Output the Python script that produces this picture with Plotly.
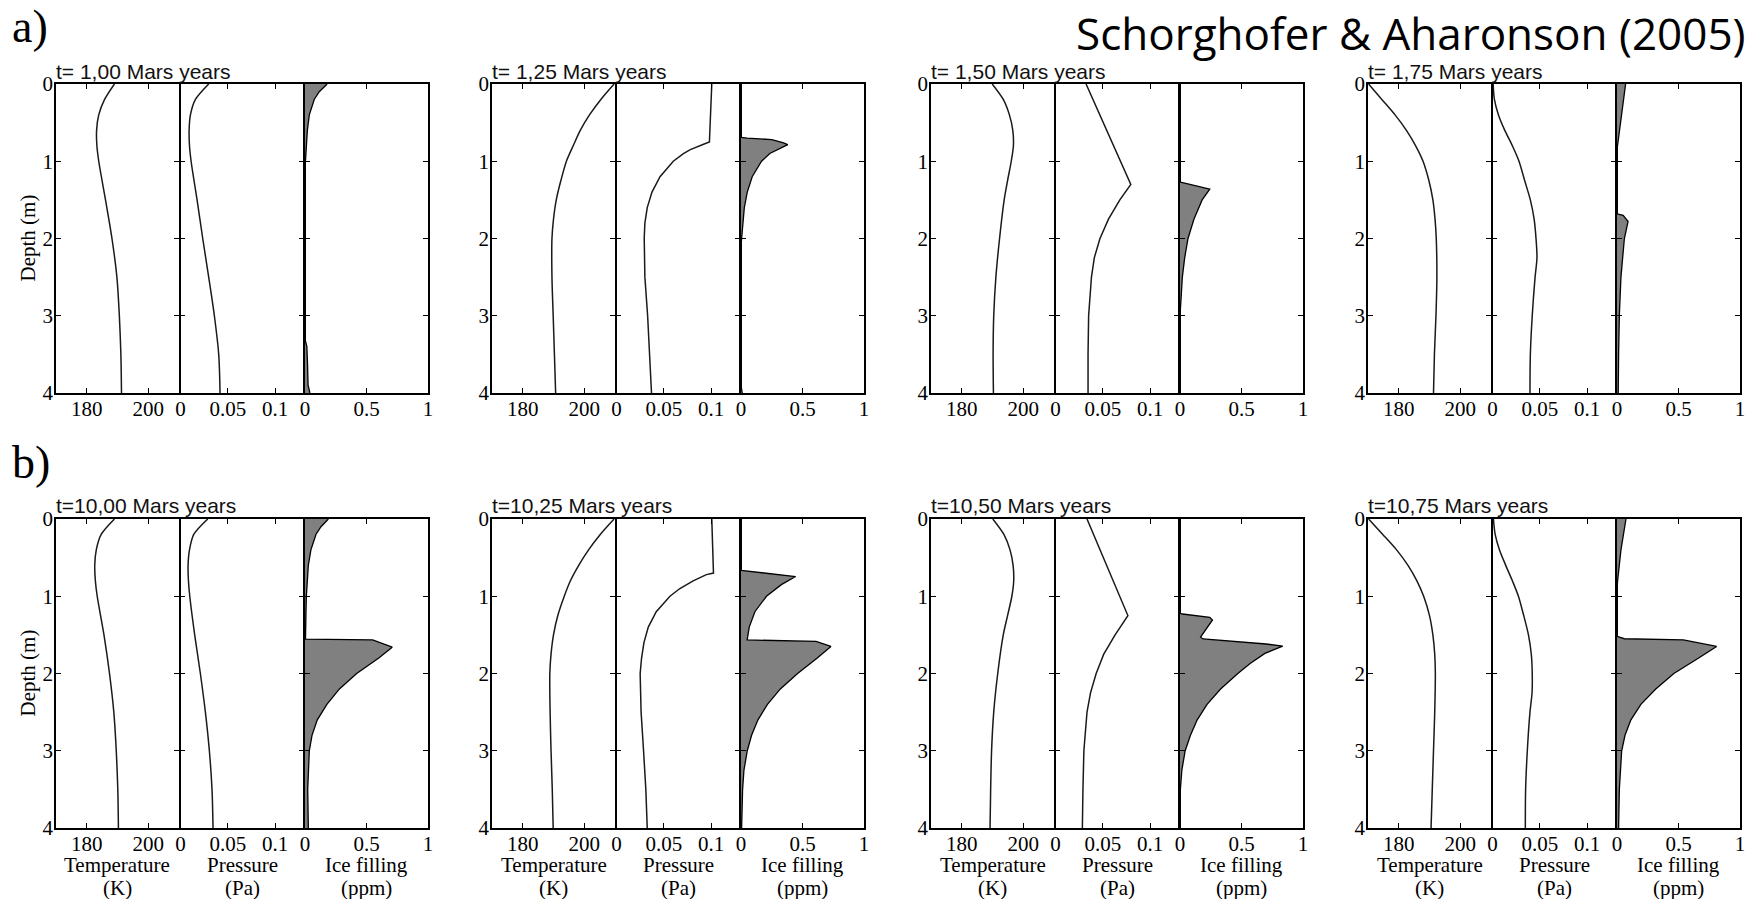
import plotly.graph_objects as go

W, H = 1751, 899

# ---------------- DATA ----------------
TITLES_A = ["t= 1,00 Mars years", "t= 1,25 Mars years", "t= 1,50 Mars years", "t= 1,75 Mars years"]
TITLES_B = ["t=10,00 Mars years", "t=10,25 Mars years", "t=10,50 Mars years", "t=10,75 Mars years"]

T_TICKS = [180, 200]
P_TICKS = [0, 0.05, 0.1]
P_TICKTEXT = ["0", "0.05", "0.1"]
I_TICKS = [0, 0.5, 1]
DEPTH_TICKS = [0, 1, 2, 3, 4]
XLABELS = [("Temperature", "(K)"), ("Pressure", "(Pa)"), ("Ice filling", "(ppm)")]

# Row a, t=1.00
A1_T_depth = [0, 0.2, 0.4, 0.6, 0.8, 1.0, 1.5, 2.0, 2.5, 3.0, 3.5, 4.0]
A1_T = [189.0, 185.8, 183.9, 183.2, 183.3, 183.9, 186.1, 188.2, 189.8, 190.6, 191.1, 191.3]
A1_P_depth = [0, 0.2, 0.4, 0.6, 0.8, 1.0, 1.5, 2.0, 2.5, 3.0, 3.5, 4.0]
A1_P = [0.0298, 0.0158, 0.0105, 0.0091, 0.0095, 0.0112, 0.0175, 0.0235, 0.0298, 0.0358, 0.0404, 0.0418]
A1_I_depth = [0, 0.1, 0.2, 0.4, 0.6, 0.8, 1.0, 1.1, 3.3, 3.4, 3.6, 3.9, 4.0]
A1_I = [0.18, 0.116, 0.075, 0.035, 0.019, 0.01, 0.003, 0, 0, 0.015, 0.02, 0.025, 0.04]

# Row a, t=1.25
A2_T_depth = [0, 0.2, 0.4, 0.6, 0.8, 1.0, 1.25, 1.5, 1.75, 2.0, 2.5, 3.0, 3.5, 4.0]
A2_T = [209.7, 205.4, 201.7, 198.7, 196.4, 194.2, 192.4, 190.9, 190.0, 189.5, 189.5, 189.9, 190.3, 190.7]
A2_P_depth = [0, 0.75, 0.78, 0.85, 0.9, 1.0, 1.2, 1.4, 1.6, 1.8, 2.0, 2.5, 3.0, 3.5, 4.0]
A2_P = [0.1007, 0.0982, 0.092, 0.078, 0.0707, 0.060, 0.046, 0.0375, 0.0325, 0.030, 0.0293, 0.030, 0.0329, 0.035, 0.037]
A2_I_depth = [0, 0.69, 0.70, 0.72, 0.76, 0.785, 0.9, 1.0, 1.2, 1.4, 1.6, 1.8, 2.0, 2.1, 3.9, 4.0]
A2_I = [0, 0, 0.05, 0.25, 0.34, 0.38, 0.234, 0.167, 0.091, 0.051, 0.027, 0.013, 0.005, 0, 0, 0.01]

# Row a, t=1.50
A3_T_depth = [0, 0.2, 0.4, 0.6, 0.8, 1.0, 1.25, 1.5, 2.0, 2.5, 3.0, 3.5, 4.0]
A3_T = [189.9, 193.5, 195.5, 196.6, 196.8, 196.1, 194.9, 193.8, 192.3, 191.1, 190.4, 190.2, 190.3]
A3_P_depth = [0, 1.3, 1.5, 1.75, 2.0, 2.25, 2.5, 3.0, 3.5, 4.0]
A3_P = [0.0323, 0.0796, 0.068, 0.056, 0.047, 0.041, 0.038, 0.035, 0.0344, 0.0344]
A3_I_depth = [0, 1.27, 1.28, 1.30, 1.36, 1.5, 1.75, 2.0, 2.25, 2.5, 2.75, 3.0, 4.0]
A3_I = [0, 0, 0.03, 0.09, 0.242, 0.18, 0.113, 0.065, 0.038, 0.019, 0.008, 0, 0]

# Row a, t=1.75
A4_T_depth = [0, 0.2, 0.4, 0.6, 0.8, 1.0, 1.25, 1.5, 1.75, 2.0, 2.5, 3.0, 3.5, 4.0]
A4_T = [170.2, 174.5, 178.8, 182.5, 185.5, 187.9, 189.8, 191.1, 191.8, 192.2, 192.4, 192.1, 191.6, 191.3]
A4_P_depth = [0, 0.2, 0.4, 0.6, 0.8, 1.0, 1.25, 1.5, 1.75, 2.0, 2.25, 2.5, 3.0, 3.5, 4.0]
A4_P = [0.0007, 0.002, 0.0063, 0.013, 0.021, 0.028, 0.034, 0.040, 0.044, 0.046, 0.047, 0.045, 0.042, 0.040, 0.0396]
A4_I_depth = [0, 0.4, 0.8, 0.85, 1.68, 1.7, 1.78, 2.0, 2.5, 3.0, 3.5, 4.0]
A4_I = [0.07, 0.035, 0.003, 0, 0, 0.05, 0.09, 0.06, 0.032, 0.019, 0.013, 0.01]

# Row b, t=10.00
B1_T_depth = [0, 0.2, 0.4, 0.6, 0.8, 1.0, 1.5, 2.0, 2.5, 3.0, 3.5, 4.0]
B1_T = [189.0, 184.7, 183.1, 182.6, 182.8, 183.4, 185.6, 187.4, 188.8, 189.6, 190.1, 190.3]
B1_P_depth = [0, 0.2, 0.4, 0.6, 0.8, 1.0, 1.5, 2.0, 2.5, 3.0, 3.5, 4.0]
B1_P = [0.0288, 0.014, 0.0095, 0.008, 0.0084, 0.0098, 0.015, 0.021, 0.0263, 0.0305, 0.0333, 0.0344]
B1_I_depth = [0, 0.1, 0.2, 0.4, 0.6, 0.8, 1.0, 1.2, 1.4, 1.555, 1.565, 1.66, 1.8, 2.0, 2.2, 2.4, 2.6, 2.8, 3.0, 3.5, 4.0]
B1_I = [0.19, 0.13, 0.089, 0.048, 0.027, 0.016, 0.011, 0.008, 0.005, 0.004, 0.55, 0.709, 0.60, 0.42, 0.28, 0.178, 0.10, 0.057, 0.035, 0.022, 0.027]

# Row b, t=10.25
B2_T_depth = [0, 0.2, 0.4, 0.6, 0.8, 1.0, 1.25, 1.5, 1.75, 2.0, 2.5, 3.0, 3.5, 4.0]
B2_T = [209.7, 205.2, 201.4, 198.2, 195.5, 193.5, 191.4, 190.0, 189.2, 188.8, 188.9, 189.2, 189.6, 189.9]
B2_P_depth = [0, 0.7, 0.72, 0.8, 0.9, 1.0, 1.2, 1.4, 1.6, 1.8, 2.0, 2.5, 3.0, 3.5, 4.0]
B2_P = [0.1007, 0.1025, 0.095, 0.081, 0.067, 0.0565, 0.042, 0.0336, 0.029, 0.0265, 0.025, 0.026, 0.0286, 0.031, 0.0325]
B2_I_depth = [0, 0.665, 0.745, 0.85, 1.0, 1.2, 1.4, 1.55, 1.565, 1.585, 1.65, 1.8, 2.0, 2.2, 2.4, 2.6, 2.8, 3.0, 3.25, 3.5, 4.0]
B2_I = [0, 0, 0.444, 0.328, 0.207, 0.113, 0.067, 0.046, 0.05, 0.61, 0.731, 0.62, 0.46, 0.32, 0.215, 0.138, 0.086, 0.051, 0.024, 0.013, 0.005]

# Row b, t=10.50
B3_T_depth = [0, 0.2, 0.4, 0.6, 0.8, 1.0, 1.25, 1.5, 2.0, 2.5, 3.0, 3.5, 4.0]
B3_T = [190.1, 193.7, 195.7, 196.7, 196.9, 196.3, 194.9, 193.5, 191.7, 190.4, 189.7, 189.4, 189.2]
B3_P_depth = [0, 1.25, 1.5, 1.75, 2.0, 2.25, 2.5, 3.0, 3.5, 4.0]
B3_P = [0.0333, 0.0765, 0.063, 0.051, 0.043, 0.037, 0.0333, 0.030, 0.029, 0.0284]
B3_I_depth = [0, 1.22, 1.23, 1.273, 1.307, 1.53, 1.553, 1.618, 1.645, 1.74, 1.87, 2.0, 2.2, 2.4, 2.6, 2.8, 3.0, 3.25, 3.5, 4.0]
B3_I = [0, 0, 0.02, 0.242, 0.264, 0.167, 0.188, 0.70, 0.835, 0.69, 0.57, 0.47, 0.33, 0.22, 0.14, 0.085, 0.042, 0.015, 0.003, 0]

# Row b, t=10.75
B4_T_depth = [0, 0.2, 0.4, 0.6, 0.8, 1.0, 1.25, 1.5, 1.75, 2.0, 2.5, 3.0, 3.5, 4.0]
B4_T = [170.2, 174.8, 179.3, 183.0, 185.9, 188.1, 190.0, 191.1, 191.7, 191.9, 191.7, 191.3, 190.9, 190.5]
B4_P_depth = [0, 0.2, 0.4, 0.6, 0.8, 1.0, 1.25, 1.5, 1.75, 2.0, 2.25, 2.5, 3.0, 3.5, 4.0]
B4_P = [0.001, 0.0028, 0.0074, 0.014, 0.021, 0.0274, 0.033, 0.038, 0.041, 0.042, 0.0418, 0.0396, 0.0368, 0.035, 0.0347]
B4_I_depth = [0, 0.4, 0.8, 0.9, 1.52, 1.55, 1.565, 1.65, 1.8, 2.0, 2.2, 2.4, 2.6, 2.8, 3.0, 3.5, 4.0]
B4_I = [0.073, 0.032, 0.005, 0, 0, 0.06, 0.54, 0.81, 0.664, 0.462, 0.315, 0.194, 0.113, 0.065, 0.038, 0.019, 0.013]

ROW_A = [
    (A1_T_depth, A1_T, A1_P_depth, A1_P, A1_I_depth, A1_I),
    (A2_T_depth, A2_T, A2_P_depth, A2_P, A2_I_depth, A2_I),
    (A3_T_depth, A3_T, A3_P_depth, A3_P, A3_I_depth, A3_I),
    (A4_T_depth, A4_T, A4_P_depth, A4_P, A4_I_depth, A4_I),
]
ROW_B = [
    (B1_T_depth, B1_T, B1_P_depth, B1_P, B1_I_depth, B1_I),
    (B2_T_depth, B2_T, B2_P_depth, B2_P, B2_I_depth, B2_I),
    (B3_T_depth, B3_T, B3_P_depth, B3_P, B3_I_depth, B3_I),
    (B4_T_depth, B4_T, B4_P_depth, B4_P, B4_I_depth, B4_I),
]
KINKED_PRESSURE = {(0, 1), (0, 2), (1, 1), (1, 2)}

# ---------------- LAYOUT GEOMETRY (pixels) ----------------
GROUP_X = [56, 492, 931, 1368]
LW = 1.5
PANEL_W = 123.0
ROW_Y = [(84, 393), (519, 828)]
TITLE_Y = [71, 505]

SERIF = "Liberation Serif, Times New Roman, serif"
SANS = "Liberation Sans, Arial, sans-serif"


def px_x(p):
    return p / W


def px_y(p):
    return 1 - p / H


fig = go.Figure()
layout = {}
annotations = []
k = 0
for r, row in enumerate([ROW_A, ROW_B]):
    top, bot = ROW_Y[r]
    for g, (td, tv, pd, pv, idp, iv) in enumerate(row):
        x0 = GROUP_X[g]
        for s in range(3):
            k += 1
            xa = "x" if k == 1 else f"x{k}"
            ya = "y" if k == 1 else f"y{k}"
            xkey = "xaxis" if k == 1 else f"xaxis{k}"
            ykey = "yaxis" if k == 1 else f"yaxis{k}"
            left = x0 + s * (PANEL_W + LW)
            right = left + PANEL_W
            common = dict(showline=True, linecolor="black", linewidth=LW, mirror="ticks",
                          ticks="inside", ticklen=5, tickwidth=1.3, tickcolor="black",
                          showgrid=False, zeroline=False, automargin=False,
                          tickfont=dict(family=SERIF, size=21, color="black"))
            if s == 0:
                xr, tvals, ttext = [170, 210], T_TICKS, [str(t) for t in T_TICKS]
                fig.add_trace(go.Scatter(x=tv, y=td, mode="lines", xaxis=xa, yaxis=ya,
                                         line=dict(color="#1a1a1a", width=1.5, shape="spline", smoothing=0.8),
                                         showlegend=False, hoverinfo="skip"))
            elif s == 1:
                xr, tvals, ttext = [0, 0.13], P_TICKS, P_TICKTEXT
                shape = "linear" if (r, g) in KINKED_PRESSURE else "spline"
                fig.add_trace(go.Scatter(x=pv, y=pd, mode="lines", xaxis=xa, yaxis=ya,
                                         line=dict(color="#1a1a1a", width=1.5, shape=shape, smoothing=0.8),
                                         showlegend=False, hoverinfo="skip"))
            else:
                xr, tvals, ttext = [0, 1], I_TICKS, ["0", "0.5", "1"]
                fig.add_trace(go.Scatter(x=iv, y=idp, mode="lines", xaxis=xa, yaxis=ya,
                                         fill="tozerox", fillcolor="#808080",
                                         line=dict(color="black", width=1.3),
                                         showlegend=False, hoverinfo="skip"))
            layout[xkey] = dict(common, domain=[px_x(left), px_x(right)], range=xr,
                                tickvals=tvals, ticktext=ttext, anchor=ya,
                                ticklabelstandoff=-4)
            layout[ykey] = dict(common, domain=[px_y(bot), px_y(top)], range=[4, 0],
                                tickvals=DEPTH_TICKS, ticktext=[str(d) for d in DEPTH_TICKS],
                                showticklabels=(s == 0), anchor=xa, ticklabelstandoff=-3)
            if r == 1:
                cx = px_x((left + right) / 2)
                annotations.append(dict(x=cx, y=px_y(865), xref="paper", yref="paper",
                                        text=XLABELS[s][0], showarrow=False,
                                        font=dict(family=SERIF, size=21, color="black"),
                                        xanchor="center", yanchor="middle"))
                annotations.append(dict(x=cx, y=px_y(888), xref="paper", yref="paper",
                                        text=XLABELS[s][1], showarrow=False,
                                        font=dict(family=SERIF, size=21, color="black"),
                                        xanchor="center", yanchor="middle"))
        title = (TITLES_A if r == 0 else TITLES_B)[g]
        annotations.append(dict(x=px_x(x0 - 2), y=px_y(TITLE_Y[r]), xref="paper", yref="paper",
                                text=title, showarrow=False,
                                font=dict(family=SANS, size=21, color="#111"),
                                xanchor="left", yanchor="middle"))
    annotations.append(dict(x=px_x(27), y=px_y((top + bot) / 2), xref="paper", yref="paper",
                            text="Depth (m)", showarrow=False, textangle=-90,
                            font=dict(family=SERIF, size=21, color="black"),
                            xanchor="center", yanchor="middle"))

annotations.append(dict(x=px_x(10), y=px_y(26), xref="paper", yref="paper", text="a)",
                        showarrow=False, font=dict(family=SERIF, size=46, color="black"),
                        xanchor="left", yanchor="middle"))
annotations.append(dict(x=px_x(10), y=px_y(462), xref="paper", yref="paper", text="b)",
                        showarrow=False, font=dict(family=SERIF, size=46, color="black"),
                        xanchor="left", yanchor="middle"))
annotations.append(dict(x=px_x(1748), y=px_y(1), xref="paper", yref="paper",
                        text="Schorghofer &amp; Aharonson (2005)", showarrow=False,
                        font=dict(family="Open Sans, sans-serif", size=44, color="black"),
                        xanchor="right", yanchor="top"))

fig.update_layout(width=W, height=H, margin=dict(l=0, r=0, t=0, b=0, pad=0, autoexpand=False),
                  paper_bgcolor="white", plot_bgcolor="white",
                  annotations=annotations, **layout)

fig.write_html("out.html", config={"displayModeBar": False},
               post_script="document.body.style.margin='0px';")
